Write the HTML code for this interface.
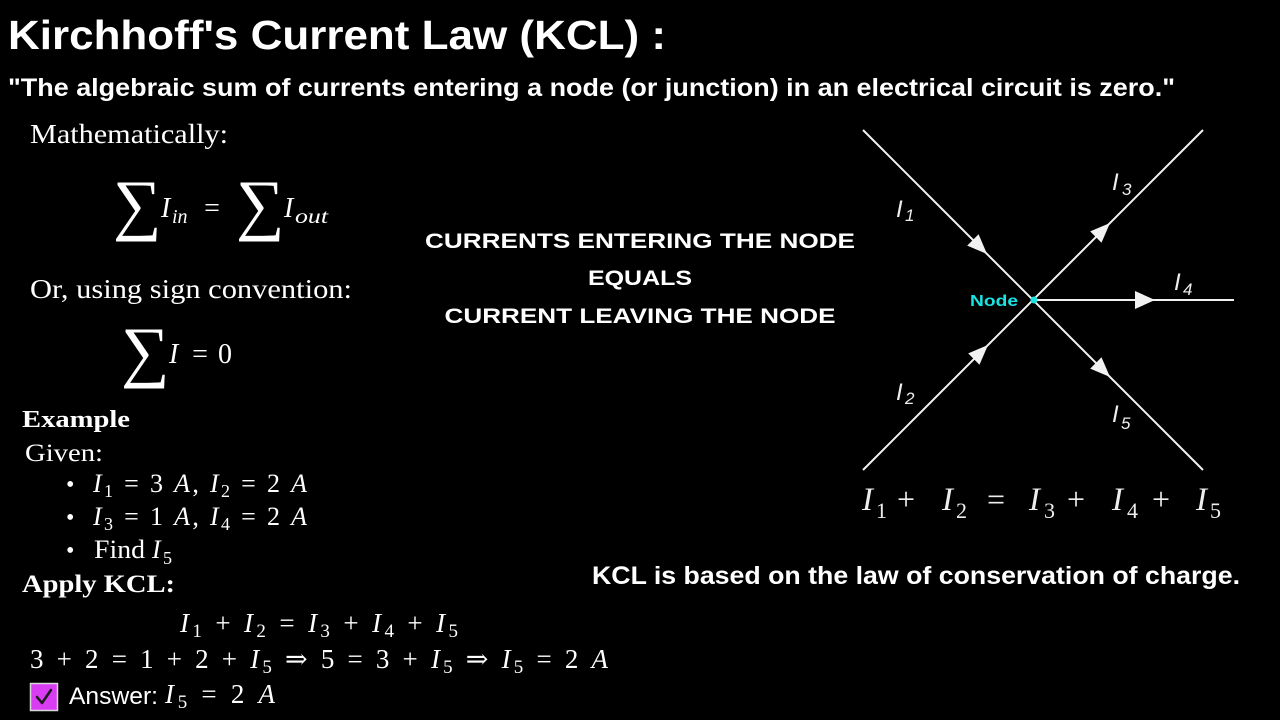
<!DOCTYPE html>
<html><head><meta charset="utf-8"><style>
html,body{margin:0;padding:0;background:#000;}
svg{display:block;}
</style></head><body>
<svg width="1280" height="720" viewBox="0 0 1280 720" xmlns="http://www.w3.org/2000/svg">
<rect x="0" y="0" width="1280" height="720" fill="#000"/>

<!-- Title -->
<text x="8" y="49" font-family="Liberation Sans, sans-serif" font-weight="bold" font-size="41" fill="#fff" textLength="658" lengthAdjust="spacingAndGlyphs">Kirchhoff's Current Law (KCL) :</text>
<text x="8" y="96" font-family="Liberation Sans, sans-serif" font-weight="bold" font-size="25" fill="#fff" textLength="1167" lengthAdjust="spacingAndGlyphs">"The algebraic sum of currents entering a node (or junction) in an electrical circuit is zero."</text>

<!-- Left math -->
<g font-family="Liberation Serif, DejaVu Serif, serif" fill="#fff">
  <text x="30" y="143" font-size="27" textLength="198" lengthAdjust="spacingAndGlyphs">Mathematically:</text>

  <text x="113" y="227" font-size="68">∑</text>
  <text x="161" y="217" font-size="28" font-style="italic">I</text>
  <text x="172" y="223" font-size="20" font-style="italic">in</text>
  <text x="212" y="217" font-size="28" text-anchor="middle">=</text>
  <text x="236" y="227" font-size="68">∑</text>
  <text x="284" y="217" font-size="28" font-style="italic">I</text>
  <text x="295" y="223" font-size="20" font-style="italic" textLength="33" lengthAdjust="spacingAndGlyphs">out</text>

  <text x="30" y="298" font-size="27" textLength="322" lengthAdjust="spacingAndGlyphs">Or, using sign convention:</text>

  <text x="121" y="374" font-size="68">∑</text>
  <text x="169" y="363" font-size="28" font-style="italic">I</text>
  <text x="200" y="363" font-size="28" text-anchor="middle">=</text>
  <text x="218" y="363" font-size="28">0</text>

  <text x="22" y="427" font-size="24" font-weight="bold" textLength="108" lengthAdjust="spacingAndGlyphs">Example</text>
  <text x="25" y="461" font-size="25" textLength="78" lengthAdjust="spacingAndGlyphs">Given:</text>

  <text x="66" y="492" font-size="24">•</text>
  <text x="93" y="492" font-size="26" textLength="214"><tspan font-style="italic">I</tspan><tspan dy="5" font-size="18">1</tspan><tspan dy="-5"> = 3 </tspan><tspan font-style="italic">A</tspan><tspan>, </tspan><tspan font-style="italic">I</tspan><tspan dy="5" font-size="18">2</tspan><tspan dy="-5"> = 2 </tspan><tspan font-style="italic">A</tspan></text>

  <text x="66" y="525" font-size="24">•</text>
  <text x="93" y="525" font-size="26" textLength="214"><tspan font-style="italic">I</tspan><tspan dy="5" font-size="18">3</tspan><tspan dy="-5"> = 1 </tspan><tspan font-style="italic">A</tspan><tspan>, </tspan><tspan font-style="italic">I</tspan><tspan dy="5" font-size="18">4</tspan><tspan dy="-5"> = 2 </tspan><tspan font-style="italic">A</tspan></text>

  <text x="66" y="558" font-size="24">•</text>
  <text x="94" y="558" font-size="26" textLength="51" lengthAdjust="spacingAndGlyphs">Find</text>
  <text x="152" y="558" font-size="26" font-style="italic">I</text>
  <text x="163" y="564" font-size="18">5</text>

  <text x="22" y="592" font-size="25" font-weight="bold" textLength="153" lengthAdjust="spacingAndGlyphs">Apply KCL:</text>

  <text x="180" y="632" font-size="27" textLength="278"><tspan font-style="italic">I</tspan><tspan dy="5" font-size="19">1</tspan><tspan dy="-5"> + </tspan><tspan font-style="italic">I</tspan><tspan dy="5" font-size="19">2</tspan><tspan dy="-5"> = </tspan><tspan font-style="italic">I</tspan><tspan dy="5" font-size="19">3</tspan><tspan dy="-5"> + </tspan><tspan font-style="italic">I</tspan><tspan dy="5" font-size="19">4</tspan><tspan dy="-5"> + </tspan><tspan font-style="italic">I</tspan><tspan dy="5" font-size="19">5</tspan></text>

  <text x="30" y="668" font-size="27" textLength="578"><tspan>3 + 2 = 1 + 2 + </tspan><tspan font-style="italic">I</tspan><tspan dy="5" font-size="19">5</tspan><tspan dy="-5"> ⇒ 5 = 3 + </tspan><tspan font-style="italic">I</tspan><tspan dy="5" font-size="19">5</tspan><tspan dy="-5"> ⇒ </tspan><tspan font-style="italic">I</tspan><tspan dy="5" font-size="19">5</tspan><tspan dy="-5"> = 2 </tspan><tspan font-style="italic">A</tspan></text>

  <text x="165" y="703" font-size="27" textLength="110"><tspan font-style="italic">I</tspan><tspan dy="5" font-size="19">5</tspan><tspan dy="-5"> = 2 </tspan><tspan font-style="italic">A</tspan></text>
</g>

<!-- checkbox -->
<rect x="30.5" y="683.5" width="27" height="27" fill="#d93cf2" stroke="#d8d8d8" stroke-width="1.5"/>
<path d="M37 697 L42 703 L51 690" fill="none" stroke="#1a1a1a" stroke-width="2.5" stroke-linecap="round" stroke-linejoin="round"/>
<text x="69" y="704" font-family="Liberation Sans, sans-serif" font-size="24" fill="#fff" textLength="89" lengthAdjust="spacingAndGlyphs">Answer:</text>

<!-- Center text -->
<g font-family="Liberation Sans, sans-serif" font-weight="bold" font-size="21" fill="#fff" text-anchor="middle">
  <text x="640" y="248" textLength="430" lengthAdjust="spacingAndGlyphs">CURRENTS ENTERING THE NODE</text>
  <text x="640" y="285" textLength="104" lengthAdjust="spacingAndGlyphs">EQUALS</text>
  <text x="640" y="323" textLength="391" lengthAdjust="spacingAndGlyphs">CURRENT LEAVING THE NODE</text>
</g>

<text x="592" y="584" font-family="Liberation Sans, sans-serif" font-weight="bold" font-size="25" fill="#fff" textLength="648" lengthAdjust="spacingAndGlyphs">KCL is based on the law of conservation of charge.</text>

<!-- Diagram -->
<g stroke="#f2f2f2" stroke-width="2" fill="none">
  <line x1="863" y1="130" x2="1203" y2="470"/>
  <line x1="863" y1="470" x2="1203" y2="130"/>
  <line x1="1034" y1="300" x2="1234" y2="300"/>
</g>
<g fill="#f2f2f2">
  <polygon points="987,254 967.2,245.6 978.6,234.2"/>
  <polygon points="988,345 979.5,364.8 968.2,353.4"/>
  <polygon points="1110,223 1101.5,242.8 1090.2,231.4"/>
  <polygon points="1110,377 1090.2,368.6 1101.5,357.2"/>
  <polygon points="1155,300 1135,291 1135,309"/>
</g>
<circle cx="1034" cy="300" r="3.5" fill="#19e3e3"/>
<text x="970" y="306" font-family="Liberation Sans, sans-serif" font-weight="bold" font-size="16" fill="#19e3e3" textLength="48" lengthAdjust="spacingAndGlyphs">Node</text>

<g font-family="Liberation Sans, sans-serif" font-style="italic" fill="#eee">
  <text x="896" y="217" font-size="24">I</text><text x="905" y="221" font-size="17">1</text>
  <text x="1112" y="190" font-size="24">I</text><text x="1122" y="195" font-size="17">3</text>
  <text x="1174" y="290" font-size="24">I</text><text x="1183" y="295" font-size="17">4</text>
  <text x="896" y="400" font-size="24">I</text><text x="905" y="404" font-size="17">2</text>
  <text x="1112" y="422" font-size="24">I</text><text x="1121" y="429" font-size="17">5</text>
</g>

<!-- bottom equation -->
<g font-family="Liberation Serif, serif" fill="#eee">
  <text x="862" y="510" font-size="33" font-style="italic">I</text><text x="876" y="518" font-size="22">1</text>
  <text x="906" y="510" font-size="32" text-anchor="middle">+</text>
  <text x="942" y="510" font-size="33" font-style="italic">I</text><text x="956" y="518" font-size="22">2</text>
  <text x="996" y="510" font-size="32" text-anchor="middle">=</text>
  <text x="1029" y="510" font-size="33" font-style="italic">I</text><text x="1044" y="518" font-size="22">3</text>
  <text x="1076" y="510" font-size="32" text-anchor="middle">+</text>
  <text x="1112" y="510" font-size="33" font-style="italic">I</text><text x="1127" y="518" font-size="22">4</text>
  <text x="1161" y="510" font-size="32" text-anchor="middle">+</text>
  <text x="1196" y="510" font-size="33" font-style="italic">I</text><text x="1210" y="518" font-size="22">5</text>
</g>
</svg>
</body></html>
